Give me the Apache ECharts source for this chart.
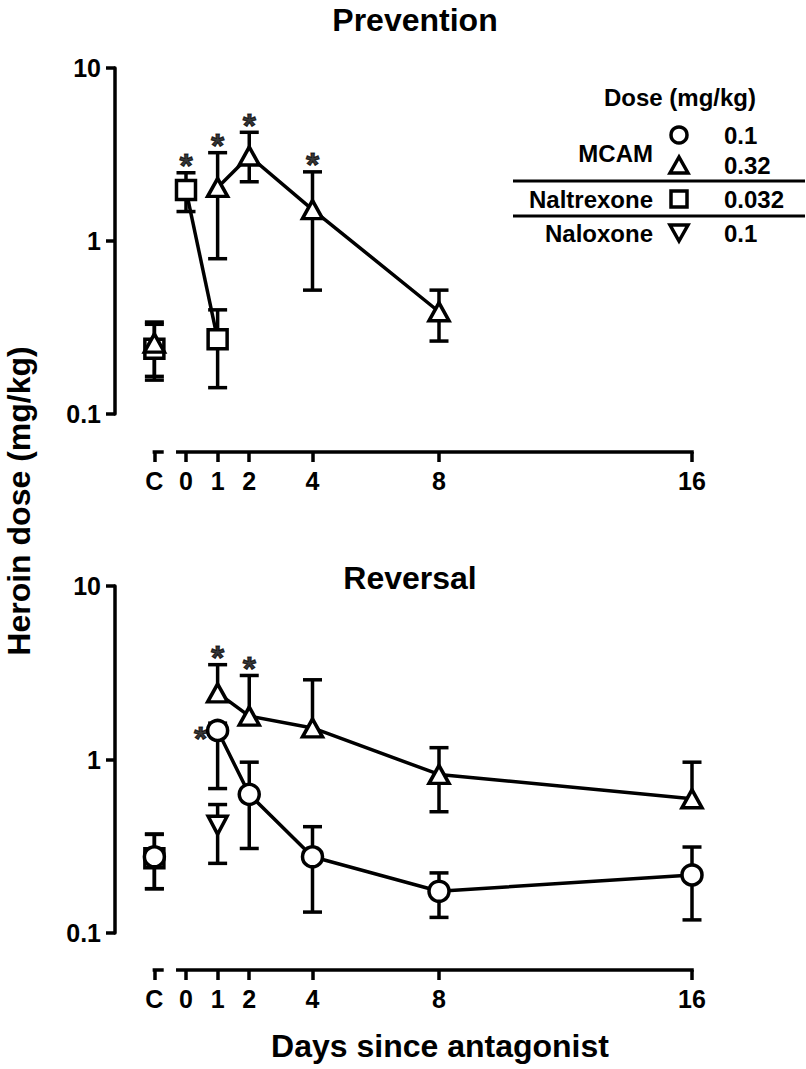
<!DOCTYPE html>
<html><head><meta charset="utf-8">
<script src="https://cdn.jsdelivr.net/npm/echarts@6/dist/echarts.min.js"></script>
<style>html,body{margin:0;padding:0;background:#fff}#c{width:806px;height:1069px}</style>
</head><body><div id="c"></div>
<script>
const FONT = '"Liberation Sans", Arial, Helvetica, sans-serif';

// ---- axis ticks ----
const xTickValues = [-1, 0, 1, 2, 4, 8, 16];
const xTickLabels = ['C', '0', '1', '2', '4', '8', '16'];
const controlX = -1;
const xAxisSegments = [[-1, -0.76], [-0.26, 16]]; // broken x axis: control part and days part
const yMin = 0.1, yMax = 10;

// ---- Prevention panel ----
const prevMcam032Days = [1, 2, 4, 8];
const prevMcam032Mean = [2.04, 3.10, 1.52, 0.39];
const prevMcam032Low  = [0.79, 2.2, 0.52, 0.264];
const prevMcam032High = [3.24, 4.25, 2.51, 0.52];
const prevMcam032Sig  = [1, 1, 1, 0];
const prevMcam032Ctrl = [0.257, 0.157, 0.34];   // mean, low, high

const prevNaltrexDays = [0, 1];
const prevNaltrexMean = [1.97, 0.27];
const prevNaltrexLow  = [1.48, 0.142];
const prevNaltrexHigh = [2.48, 0.40];
const prevNaltrexSig  = [1, 0];
const prevNaltrexCtrl = [0.238, 0.165, 0.33];

// ---- Reversal panel ----
const revMcam01Days = [1, 2, 4, 8, 16];
const revMcam01Mean = [1.47, 0.63, 0.275, 0.174, 0.216];
const revMcam01Low  = [0.68, 0.307, 0.132, 0.123, 0.119];
const revMcam01High = [1.62, 0.965, 0.41, 0.222, 0.313];
const revMcam01Sig  = [1, 0, 0, 0, 0];
const revMcam01Ctrl = [0.275, 0.18, 0.372];

const revMcam032Days = [1, 2, 4, 8, 16];
const revMcam032Mean = [2.42, 1.78, 1.52, 0.82, 0.594];
const revMcam032Low  = [2.2, 1.62, 1.38, 0.50, 0.54];
const revMcam032High = [3.52, 3.05, 2.88, 1.17, 0.965];
const revMcam032Sig  = [1, 1, 0, 0, 0];

const revNaloxDays = [1];
const revNaloxMean = [0.418];
const revNaloxLow  = [0.252];
const revNaloxHigh = [0.55];

const revNaltrexCtrl = [0.27, 0.18, 0.37];

// ---- builders ----
const BLACK = '#000';
const LW = 3.5;
const axisOffsets = [38, 37];

function axisLineSeries(gi) {
  return {
    type: 'custom', xAxisIndex: gi, yAxisIndex: gi, silent: true, z: 1,
    data: xAxisSegments.map(s => [s[0], s[1], yMin]),
    encode: { x: [0, 1], y: 2 },
    renderItem: (params, api) => {
      const p0 = api.coord([api.value(0), api.value(2)]);
      const p1 = api.coord([api.value(1), api.value(2)]);
      const off = axisOffsets[gi];
      return { type: 'line', shape: { x1: p0[0], y1: p0[1] + off, x2: p1[0], y2: p1[1] + off },
        style: { stroke: BLACK, lineWidth: LW, lineCap: 'square' } };
    }
  };
}

function errSeries(gi, xs, lo, hi) {
  return {
    type: 'custom', xAxisIndex: gi, yAxisIndex: gi, silent: true, z: 2,
    data: xs.map((x, i) => [x, lo[i], hi[i]]),
    encode: { x: 0, y: [1, 2] },
    renderItem: (params, api) => {
      const x = api.value(0);
      const a = api.coord([x, api.value(1)]);
      const b = api.coord([x, api.value(2)]);
      const w = 9.5;
      const st = { stroke: BLACK, lineWidth: LW };
      return { type: 'group', children: [
        { type: 'line', shape: { x1: a[0], y1: a[1], x2: b[0], y2: b[1] }, style: st },
        { type: 'line', shape: { x1: a[0] - w, y1: a[1], x2: a[0] + w, y2: a[1] }, style: st },
        { type: 'line', shape: { x1: b[0] - w, y1: b[1], x2: b[0] + w, y2: b[1] }, style: st }
      ]};
    }
  };
}

const SYM = {
  circle: { symbol: 'circle', size: 20, rotate: 0 },
  tri: { symbol: 'triangle', size: [20, 18], rotate: 0 },
  rect: { symbol: 'rect', size: 19, rotate: 0 },
  down: { symbol: 'triangle', size: [19, 18], rotate: 180 }
};

function lineSeries(gi, xs, ys, sym, z) {
  const s = SYM[sym];
  return {
    type: 'line', xAxisIndex: gi, yAxisIndex: gi, z: z || 3, silent: true,
    data: xs.map((x, i) => [x, ys[i]]),
    symbol: s.symbol, symbolSize: s.size, symbolRotate: s.rotate, showSymbol: true,
    itemStyle: { color: '#fff', borderColor: BLACK, borderWidth: LW },
    lineStyle: { color: BLACK, width: LW },
    emphasis: { disabled: true }
  };
}

function ctrlSeries(gi, ctrl, sym, z) {
  return [errSeries(gi, [controlX], [ctrl[1]], [ctrl[2]]), lineSeries(gi, [controlX], [ctrl[0]], sym, z)];
}

function starSeries(gi, xs, ys, sig, position, offset) {
  const data = [];
  xs.forEach((x, i) => { if (sig[i]) data.push([x, ys[i]]); });
  return {
    type: 'scatter', xAxisIndex: gi, yAxisIndex: gi, silent: true, z: 5,
    data, symbolSize: 1, itemStyle: { color: 'rgba(0,0,0,0)' },
    label: { show: true, formatter: '*', position, distance: 0, offset,
      color: BLACK, fontSize: 34, fontWeight: 'bold', fontFamily: FONT,
      textBorderColor: BLACK, textBorderWidth: 1 }
  };
}

function makeXAxis(gi) {
  return {
    type: 'value', gridIndex: gi, min: -2.245, max: 16, offset: axisOffsets[gi],
    axisLine: { show: false, onZero: false },
    axisTick: { show: true, customValues: xTickValues, length: 10, lineStyle: { color: BLACK, width: LW } },
    axisLabel: { show: true, customValues: xTickValues, margin: 16, color: BLACK,
      fontSize: 25, fontWeight: 'bold', fontFamily: FONT,
      formatter: v => xTickLabels[xTickValues.indexOf(v)] },
    splitLine: { show: false }
  };
}
function makeYAxis(gi) {
  return {
    type: 'log', logBase: 10, gridIndex: gi, min: yMin, max: yMax,
    axisLine: { show: true, onZero: false, lineStyle: { color: BLACK, width: LW } },
    axisTick: { show: true, length: 9, lineStyle: { color: BLACK, width: LW } },
    minorTick: { show: false },
    axisLabel: { margin: 14, color: BLACK, fontSize: 25, fontWeight: 'bold', fontFamily: FONT,
      formatter: v => String(v) },
    splitLine: { show: false }
  };
}

const series = [
  axisLineSeries(0), axisLineSeries(1),
  // prevention
  ...ctrlSeries(0, prevNaltrexCtrl, 'rect', 3),
  ...ctrlSeries(0, prevMcam032Ctrl, 'tri', 4),
  errSeries(0, prevNaltrexDays, prevNaltrexLow, prevNaltrexHigh),
  errSeries(0, prevMcam032Days, prevMcam032Low, prevMcam032High),
  lineSeries(0, prevNaltrexDays, prevNaltrexMean, 'rect', 3),
  lineSeries(0, prevMcam032Days, prevMcam032Mean, 'tri', 4),
  starSeries(0, prevNaltrexDays, prevNaltrexHigh, prevNaltrexSig, 'top', [0, 10]),
  starSeries(0, prevMcam032Days, prevMcam032High, prevMcam032Sig, 'top', [0, 10]),
  // reversal
  ...ctrlSeries(1, revNaltrexCtrl, 'rect', 3),
  ...ctrlSeries(1, revMcam01Ctrl, 'circle', 4),
  errSeries(1, revNaloxDays, revNaloxLow, revNaloxHigh),
  errSeries(1, revMcam01Days, revMcam01Low, revMcam01High),
  errSeries(1, revMcam032Days, revMcam032Low, revMcam032High),
  lineSeries(1, revNaloxDays, revNaloxMean, 'down', 3),
  lineSeries(1, revMcam01Days, revMcam01Mean, 'circle', 3),
  lineSeries(1, revMcam032Days, revMcam032Mean, 'tri', 4),
  starSeries(1, revMcam032Days, revMcam032High, revMcam032Sig, 'top', [0, 10]),
  starSeries(1, revMcam01Days, revMcam01Mean, revMcam01Sig, 'left', [-10, 8])
];

const LF = 'bold 24px ' + FONT;
function txt(text, x, y, align, font) {
  return { type: 'text', x, y, silent: true,
    style: { text, font: font || LF, fill: BLACK, textAlign: align, textVerticalAlign: 'middle' } };
}
const TF = 'bold 32px ' + FONT;
const graphic = [
  txt('Prevention', 415, 20, 'center', TF),
  txt('Reversal', 410, 578, 'center', TF),
  txt('Days since antagonist', 440, 1046, 'center', TF),
  { type: 'text', x: 19, y: 501, rotation: Math.PI / 2, silent: true,
    style: { text: 'Heroin dose (mg/kg)', font: TF, fill: BLACK, textAlign: 'center', textVerticalAlign: 'middle' } },
  // legend table
  txt('Dose (mg/kg)', 680, 97, 'center'),
  txt('MCAM', 653, 153, 'right'),
  { type: 'circle', silent: true, shape: { cx: 679, cy: 135, r: 8 }, style: { fill: '#fff', stroke: BLACK, lineWidth: 3.5 } },
  { type: 'polygon', silent: true, shape: { points: [[679, 157], [670, 173], [688, 173]] }, style: { fill: '#fff', stroke: BLACK, lineWidth: 3.5 } },
  txt('0.1', 724, 135, 'left'),
  txt('0.32', 724, 165, 'left'),
  { type: 'line', silent: true, shape: { x1: 513, y1: 181, x2: 805, y2: 181 }, style: { stroke: BLACK, lineWidth: 3 } },
  txt('Naltrexone', 653, 199, 'right'),
  { type: 'rect', silent: true, shape: { x: 671, y: 191, width: 16, height: 16 }, style: { fill: '#fff', stroke: BLACK, lineWidth: 3.5 } },
  txt('0.032', 724, 199, 'left'),
  { type: 'line', silent: true, shape: { x1: 513, y1: 216, x2: 805, y2: 216 }, style: { stroke: BLACK, lineWidth: 3 } },
  txt('Naloxone', 653, 233, 'right'),
  { type: 'polygon', silent: true, shape: { points: [[670, 225], [688, 225], [679, 241]] }, style: { fill: '#fff', stroke: BLACK, lineWidth: 3.5 } },
  txt('0.1', 724, 233, 'left')
];

const chart = echarts.init(document.getElementById('c'), null, { renderer: 'svg' });
chart.setOption({
  animation: false,
  backgroundColor: '#fff',
  grid: [
    { left: 115, top: 68, width: 577, height: 346 },
    { left: 115, top: 586, width: 577, height: 347 }
  ],
  xAxis: [makeXAxis(0), makeXAxis(1)],
  yAxis: [makeYAxis(0), makeYAxis(1)],
  series,
  graphic
});
</script></body></html>
